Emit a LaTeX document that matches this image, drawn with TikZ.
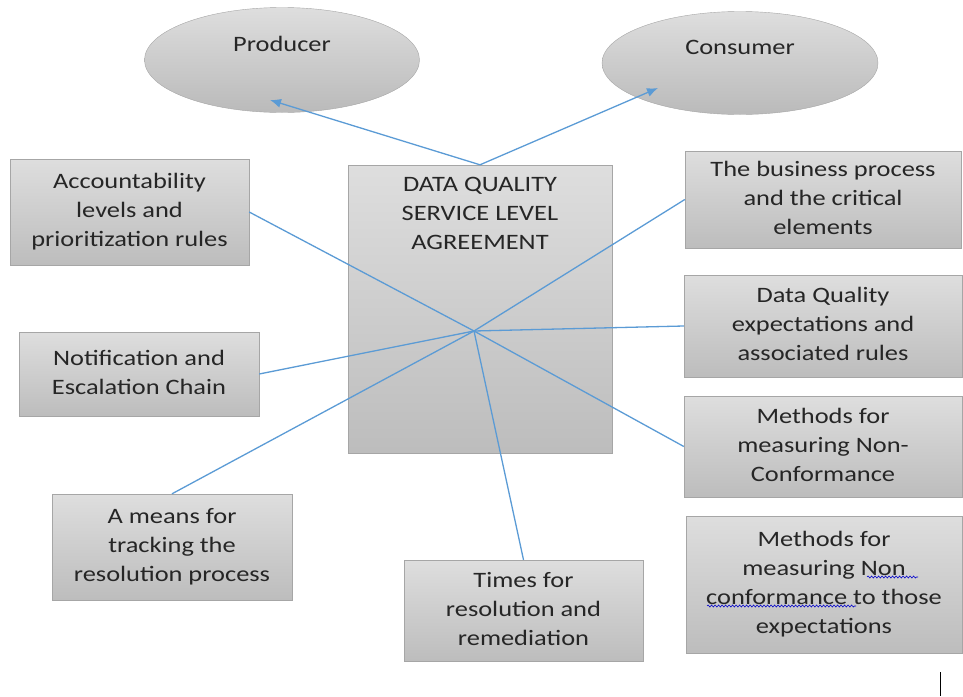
\documentclass[tikz,border=0pt]{standalone}
\usepackage{fontspec}
\setmainfont{Carlito}[FakeStretch=1.2]
\usetikzlibrary{shapes.geometric,arrows.meta,decorations.pathmorphing}
\definecolor{linkblue}{RGB}{91,155,213}
\definecolor{boxline}{RGB}{166,166,166}
\definecolor{txt}{RGB}{38,38,38}
\begin{document}
\begin{tikzpicture}[x=1pt, y=-1pt, font=\fontsize{22}{29}\selectfont, text=txt,
	box/.style={draw=boxline, top color=black!13, bottom color=black!26, inner sep=0pt},
	oval/.style={ellipse, draw=boxline, top color=black!13, bottom color=black!27, inner sep=0pt},
	link/.style={linkblue, line width=1.3pt},
	squig/.style={blue!80!black, line width=0.6pt, decorate, decoration={snake, amplitude=1pt, segment length=3.5pt}}]
%			\draw[help lines] (0,0) grid (963,696);
			\useasboundingbox (0,0) rectangle (963,696);
			\node[oval, minimum width=275, minimum height=105] (prod) at (282,60) {};
			\node (prodname) at (282,44) {Producer};
			\node[oval, minimum width=276, minimum height=103] (cons) at (740,63) {};
			\node (consname) at (740,47) {Consumer};
			\node[box, minimum width=264, minimum height=288] (sla) at (480,309) {};
			\node (slaname) at (480,215) {\begin{tabular}{c} DATA QUALITY \\ SERVICE LEVEL \\ AGREEMENT \end{tabular}};
			\node[box, minimum width=239, minimum height=106] (acc) at (129.5,212) {\begin{tabular}{c} Accountability \\ levels and \\ prioritization rules \end{tabular}};
			\node[box, minimum width=240, minimum height=84] (notif) at (139,374) {\begin{tabular}{c} Notification and \\ Escalation Chain \end{tabular}};
			\node[box, minimum width=240, minimum height=106] (track) at (172,547) {\begin{tabular}{c} A means for \\ tracking the \\ resolution process \end{tabular}};
			\node[box, minimum width=239, minimum height=101] (times) at (523.5,610.5) {\begin{tabular}{c} Times for \\ resolution and \\ remediation \end{tabular}};
			\node[box, minimum width=276, minimum height=97] (biz) at (823,199.5) {\begin{tabular}{c} The business process \\ and the critical \\ elements \end{tabular}};
			\node[box, minimum width=278, minimum height=102] (expect) at (823,326) {\begin{tabular}{c} Data Quality \\ expectations and \\ associated rules \end{tabular}};
			\node[box, minimum width=278, minimum height=101] (meas) at (823,446.5) {\begin{tabular}{c} Methods for \\ measuring Non- \\ Conformance \end{tabular}};
			\node[box, minimum width=276, minimum height=137] (measexp) at (824,584.5) {\begin{tabular}{c} Methods for \\ measuring Non \\ conformance to those \\ expectations \end{tabular}};
			% spelling marks
			\draw[squig] (867,577) -- (918,577);
			\draw[squig] (707,606) -- (856,606);
			\coordinate (hub) at (474,331);
			\coordinate (prodtip) at (270,100);
			\coordinate (constip) at (658,88);
			\draw[link, -{Latex[length=11pt,width=9pt]}] (sla.north) -- (prodtip);
			\draw[link, -{Latex[length=11pt,width=9pt]}] (sla.north) -- (constip);
			\draw[link] (hub) -- (acc.east);
			\draw[link] (hub) -- (notif.east);
			\draw[link] (hub) -- (track.north);
			\draw[link] (hub) -- (times.north);
			\draw[link] (hub) -- (biz.west);
			\draw[link] (hub) -- (expect.west);
			\draw[link] (hub) -- (meas.west);
			\draw[line width=1pt] (940,672) -- (940,696);
		\end{tikzpicture}
\end{document}
